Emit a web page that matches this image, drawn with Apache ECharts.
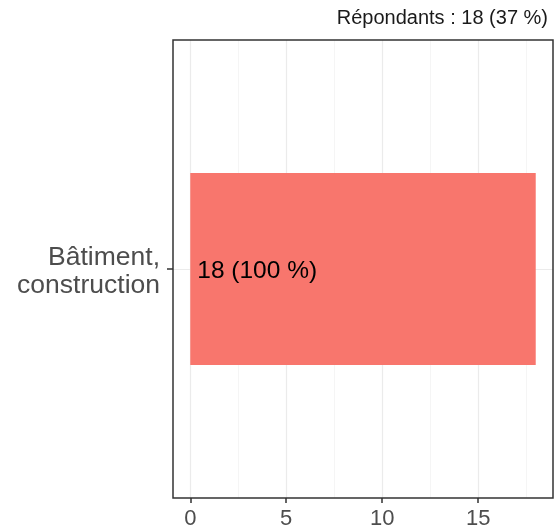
<!DOCTYPE html>
<html><head><meta charset="utf-8">
<script src="https://cdn.jsdelivr.net/npm/echarts@6/dist/echarts.min.js"></script>
<style>html,body{margin:0;padding:0;background:#fff}#c{width:555px;height:530px}</style>
</head><body><div id="c"></div>
<script>
const categories = ['Bâtiment,\nconstruction'];
const counts = [18];
const labels = ['18 (100 %)'];
const majorTicks = [0, 5, 10, 15];
const minorTicks = [2.5, 7.5, 12.5, 17.5];
const title = 'Répondants : 18 (37 %)';

const chart = echarts.init(document.getElementById('c'), null, {renderer: 'canvas'});
const font = 'Liberation Sans, Arial, sans-serif';
const lblStyle = {fontFamily: font, fontSize: 26.5, color: '#4d4d4d', lineHeight: 28, align: 'right'};
chart.setOption({
  animation: false,
  title: {text: title, right: 2, top: 3, textStyle: {fontFamily: font, fontSize: 20, fontWeight: 'normal', color: '#1a1a1a'}},
  grid: {left: 173, right: 2, top: 40, bottom: 32, show: true, borderColor: '#333', borderWidth: 1.5, backgroundColor: 'transparent', z: 10},
  xAxis: [{
    type: 'value', min: -0.9, max: 18.9, position: 'bottom',
    axisLine: {show: false, onZero: false},
    axisTick: {show: true, length: 5, lineStyle: {color: '#333', width: 1.5}, customValues: majorTicks},
    axisLabel: {customValues: majorTicks, fontFamily: font, fontSize: 22, color: '#4d4d4d', margin: 10},
    splitLine: {show: true, lineStyle: {color: '#ebebeb', width: 1.2}}
  }, {
    type: 'value', min: -0.9, max: 18.9, position: 'bottom',
    axisLine: {show: false, onZero: false},
    axisTick: {show: false, customValues: minorTicks},
    axisLabel: {show: false, customValues: minorTicks},
    splitLine: {show: true, lineStyle: {color: '#f2f2f2', width: 0.8}}
  }],
  yAxis: [{
    type: 'category', data: categories,
    axisLine: {show: false, onZero: false},
    axisTick: {show: true, alignWithLabel: true, length: 6, lineStyle: {color: '#333', width: 1.5}},
    axisLabel: {
      margin: 13, align: 'right',
      formatter: (v) => v.split('\n').map((s, i) => '{' + (i === 0 ? 'a' : 'b') + '|' + s + '}').join('\n'),
      rich: {
        a: Object.assign({padding: [6, 0, 0, 0]}, lblStyle),
        b: Object.assign({padding: [5, 0, 0, 0]}, lblStyle)
      }
    },
    splitLine: {show: false}
  }, {
    type: 'value', min: 0, max: 2, position: 'left',
    axisLine: {show: false, onZero: false},
    axisTick: {show: false, customValues: [1]},
    axisLabel: {show: false, customValues: [1]},
    splitLine: {show: true, lineStyle: {color: '#ebebeb', width: 1.2}}
  }],
  series: [{
    type: 'bar', data: counts, xAxisIndex: 0, yAxisIndex: 0,
    barWidth: 192,
    itemStyle: {color: '#F8766D'},
    label: {show: true, position: 'insideLeft', distance: 7, offset: [0, 2], formatter: (p) => labels[p.dataIndex],
      fontFamily: font, fontSize: 24.5, color: '#000'}
  }]
});
</script></body></html>
